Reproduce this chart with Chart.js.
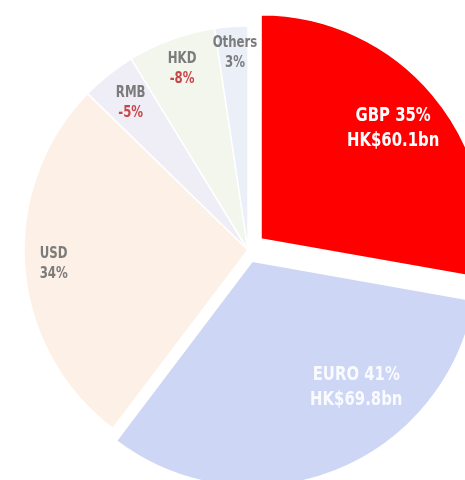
<!DOCTYPE html>
<html>
<head>
<meta charset="utf-8">
<script src="https://cdn.jsdelivr.net/npm/chart.js@4"></script>
<style>
  html, body { margin: 0; padding: 0; background: #fff; overflow: hidden; }
  #wrap { width: 465px; height: 480px; position: relative; }
</style>
</head>
<body>
<div id="wrap"><canvas id="pieChart"></canvas></div>
<script>
// Data
const currencies = ['GBP', 'EURO', 'USD', 'RMB', 'HKD', 'Others'];
const changes = [35, 41, 34, -5, -8, 3];
const amounts = ['HK$60.1bn', 'HK$69.8bn', '', '', '', ''];

const sliceColors = ['#ff0000', '#cdd6f4', '#fdf1e7', '#efeef6', '#f2f6ec', '#ebeff8'];
// chart.js v4 moves an arc by offset / 4
const sliceOffsets = [68, 48, 0, 0, 0, 0];

// label styling per slice
const labelStyle = [
  { inline: true, color: '#ffffff', size: 19, r: 0.77, shift: 0, align: 'center' },
  { inline: true, color: 'rgba(255,255,255,0.9)', size: 19, r: 0.73, shift: -18, align: 'center' },
  { inline: false, color: '#7b7b7b', size: 15, r: 0.87, shift: 0, align: 'left' },
  { inline: false, color: '#7b7b7b', size: 15, r: 0.84, shift: 0, align: 'center' },
  { inline: false, color: '#7b7b7b', size: 15, r: 0.86, shift: 0, align: 'center' },
  { inline: false, color: '#7b7b7b', size: 15, r: 0.88, shift: 0.5, align: 'center' }
];
const negColor = '#c9474a';
const font = '"DejaVu Sans Condensed", "Liberation Sans Narrow", sans-serif';
const squeeze = 0.87;

const sliceLabels = {
  id: 'sliceLabels',
  afterDatasetsDraw(chart) {
    const { ctx } = chart;
    const meta = chart.getDatasetMeta(0);
    meta.data.forEach((arc, i) => {
      const st = labelStyle[i];
      const p = arc.getProps(['x', 'y', 'startAngle', 'endAngle', 'outerRadius']);
      const mid = (p.startAngle + p.endAngle) / 2;
      const off = sliceOffsets[i] / 4;
      const cx = p.x + Math.cos(mid) * off;
      const cy = p.y + Math.sin(mid) * off;
      const a = mid + st.shift * Math.PI / 180;
      const x = cx + Math.cos(a) * p.outerRadius * st.r;
      const y = cy + Math.sin(a) * p.outerRadius * st.r;
      const pct = changes[i] + '%';
      ctx.save();
      ctx.font = 'bold ' + st.size + 'px ' + font;
      ctx.textBaseline = 'middle';
      if (st.inline) {
        ctx.translate(x, y);
        ctx.scale(squeeze, 1);
        ctx.textAlign = 'center';
        ctx.fillStyle = st.color;
        ctx.fillText(currencies[i] + ' ' + pct, 0, -12);
        ctx.fillText(amounts[i], 0, 13);
      } else {
        const lx = st.align === 'left' ? x - 14 : x;
        ctx.translate(lx, y);
        ctx.scale(squeeze, 1);
        ctx.textAlign = st.align;
        ctx.fillStyle = st.color;
        ctx.fillText(currencies[i], 0, -10);
        ctx.fillStyle = changes[i] < 0 ? negColor : st.color;
        ctx.fillText(pct, 0, 10);
      }
      ctx.restore();
    });
  }
};

new Chart(document.getElementById('pieChart'), {
  type: 'pie',
  data: {
    labels: currencies,
    datasets: [{
      data: changes.map(v => Math.abs(v)),
      backgroundColor: sliceColors,
      borderColor: '#ffffff',
      borderWidth: 1.5,
      offset: sliceOffsets,
      radius: 224,
      clip: false
    }]
  },
  options: {
    responsive: true,
    maintainAspectRatio: false,
    animation: false,
    layout: { padding: { left: 31, right: 0, top: 20, bottom: 0 } },
    plugins: {
      legend: { display: false },
      tooltip: { enabled: false }
    }
  },
  plugins: [sliceLabels]
});
</script>
</body>
</html>
